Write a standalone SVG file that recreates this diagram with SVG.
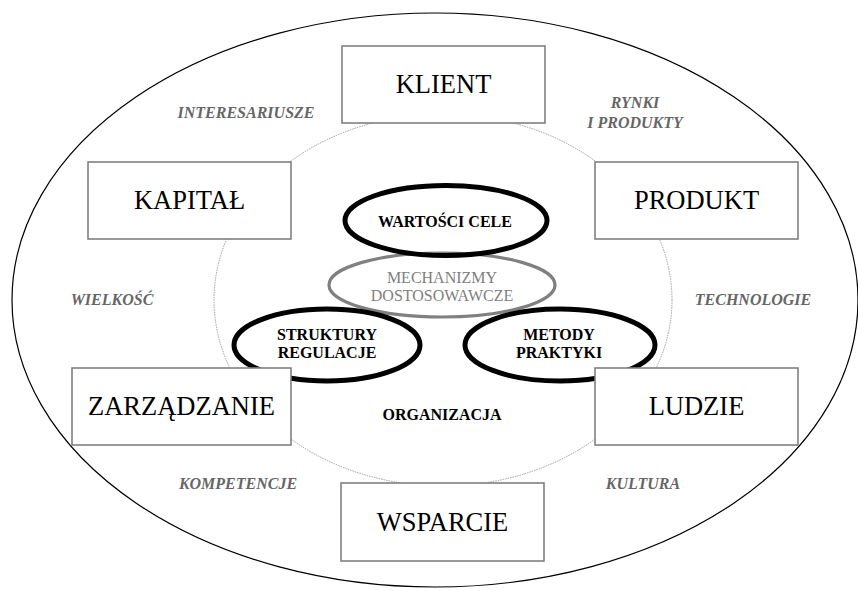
<svg xmlns="http://www.w3.org/2000/svg" width="858" height="591" viewBox="0 0 858 591" font-family="Liberation Serif, serif">
<style>
.box{fill:#fff;stroke:#808080;stroke-width:1.6}
text{text-anchor:middle}
.bt{font-size:26.5px;fill:#000}
.lab{font-size:16px;font-weight:bold;font-style:italic;fill:#666}
.ct{font-size:16px;font-weight:bold;fill:#000}
.mt{font-size:16px;fill:#808080}
.thick{fill:none;stroke:#000;stroke-width:5}
</style>
<rect width="858" height="591" fill="#fff"/>
<g id="connectors">
<ellipse id="outer" cx="435" cy="300" rx="423" ry="287" fill="none" stroke="#000" stroke-width="1.2"/>
<ellipse id="inner" cx="443" cy="300" rx="229" ry="186" fill="none" stroke="#888" stroke-width="0.8" stroke-dasharray="1.5 1"/>
</g>
<g id="labels">
<text class="lab" x="246" y="118" font-family="Liberation Serif, serif">INTERESARIUSZE</text>
<text class="lab" x="635" y="108" font-family="Liberation Serif, serif">RYNKI</text>
<text class="lab" x="635" y="128" font-family="Liberation Serif, serif">I PRODUKTY</text>
<text class="lab" x="112" y="305" font-family="Liberation Serif, serif">WIELKOŚĆ</text>
<text class="lab" x="753" y="305" font-family="Liberation Serif, serif">TECHNOLOGIE</text>
<text class="lab" x="238" y="489" font-family="Liberation Serif, serif">KOMPETENCJE</text>
<text class="lab" x="643" y="489" font-family="Liberation Serif, serif">KULTURA</text>
</g>
<g id="mechanizmy">
<ellipse cx="442" cy="285" rx="113" ry="32" fill="none" stroke="#808080" stroke-width="3.2"/>
<text class="mt" x="442" y="283" font-family="Liberation Serif, serif">MECHANIZMY</text>
<text class="mt" x="442" y="301" font-family="Liberation Serif, serif">DOSTOSOWAWCZE</text>
</g>
<g id="wartosci">
<ellipse class="thick" cx="446" cy="220.5" rx="101" ry="35"/>
<text class="ct" x="445" y="227" font-family="Liberation Serif, serif">WARTOŚCI CELE</text>
</g>
<g id="struktury">
<ellipse class="thick" cx="327" cy="345" rx="93" ry="36"/>
<text class="ct" x="327" y="340" font-family="Liberation Serif, serif">STRUKTURY</text>
<text class="ct" x="327" y="358" font-family="Liberation Serif, serif">REGULACJE</text>
</g>
<g id="metody">
<ellipse class="thick" cx="560" cy="345" rx="95" ry="36"/>
<text class="ct" x="559" y="340" font-family="Liberation Serif, serif">METODY</text>
<text class="ct" x="559" y="358" font-family="Liberation Serif, serif">PRAKTYKI</text>
</g>
<g id="organizacja">
<text class="ct" x="442" y="420" font-family="Liberation Serif, serif">ORGANIZACJA</text>
</g>
<g id="klient">
<rect class="box" x="342" y="46" width="203" height="77"/>
<text class="bt" x="443.5" y="93" font-family="Liberation Serif, serif">KLIENT</text>
</g>
<g id="kapital">
<rect class="box" x="88" y="162" width="203" height="77"/>
<text class="bt" x="189.5" y="209" font-family="Liberation Serif, serif">KAPITAŁ</text>
</g>
<g id="produkt">
<rect class="box" x="595" y="162" width="203" height="77"/>
<text class="bt" x="696.5" y="209" font-family="Liberation Serif, serif">PRODUKT</text>
</g>
<g id="zarzadzanie">
<rect class="box" x="72" y="368" width="219" height="77"/>
<text class="bt" x="181.5" y="415" font-family="Liberation Serif, serif">ZARZĄDZANIE</text>
</g>
<g id="ludzie">
<rect class="box" x="595" y="368" width="203" height="77"/>
<text class="bt" x="696.5" y="415" font-family="Liberation Serif, serif">LUDZIE</text>
</g>
<g id="wsparcie">
<rect class="box" x="341" y="483" width="203" height="78"/>
<text class="bt" x="442.5" y="531" font-family="Liberation Serif, serif">WSPARCIE</text>
</g>
</svg>
